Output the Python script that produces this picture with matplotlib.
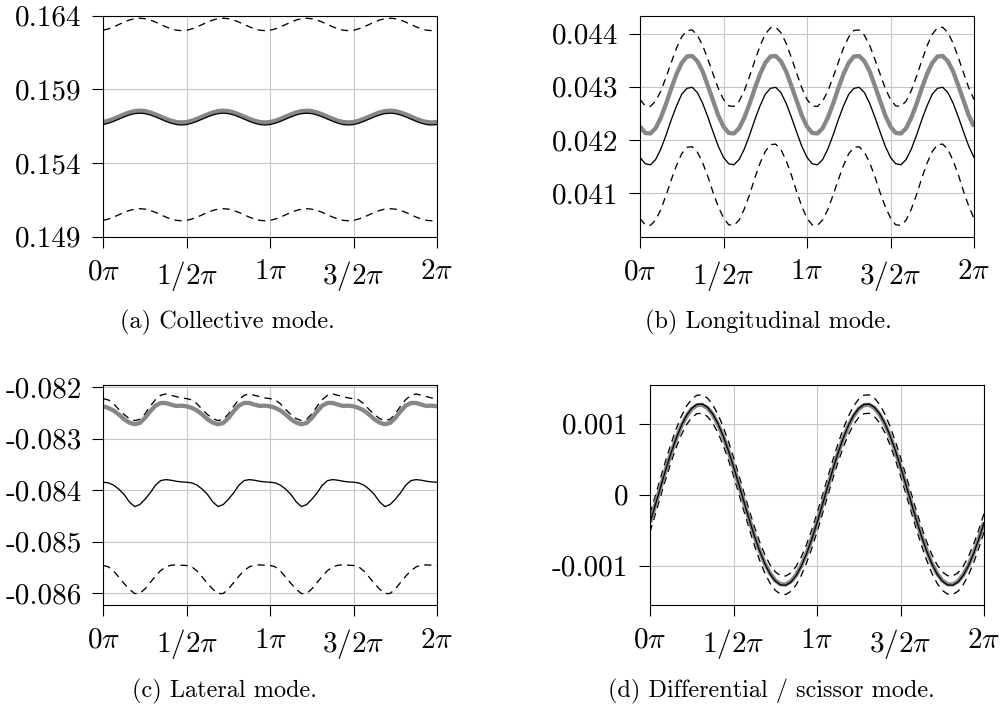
import numpy as np
import matplotlib
matplotlib.use("Agg")
import matplotlib.pyplot as plt

plt.rcParams["mathtext.fontset"] = "cm"
plt.rcParams["font.family"] = ["cmr10", "DejaVu Serif"]
plt.rcParams["axes.formatter.use_mathtext"] = True

# sample positions: 0 .. 2*pi in steps of pi/32
phase = np.linspace(0.0, 2.0 * np.pi, 65)

x_ticks = [0.0, 0.5 * np.pi, np.pi, 1.5 * np.pi, 2.0 * np.pi]
x_tick_labels = [r"$0\pi$", r"$1/2\pi$", r"$1\pi$", r"$3/2\pi$", r"$2\pi$"]

# ---------------- (a) collective mode ----------------
collective_upper = [
    0.16301, 0.16310, 0.16324, 0.16340, 0.16356, 0.16370, 0.16379, 0.16382, 0.16379, 0.16370, 0.16356, 0.16340, 0.16324, 0.16310, 0.16301, 0.16298,
    0.16301, 0.16310, 0.16324, 0.16340, 0.16356, 0.16370, 0.16379, 0.16382, 0.16379, 0.16370, 0.16356, 0.16340, 0.16324, 0.16310, 0.16301, 0.16298,
    0.16301, 0.16310, 0.16324, 0.16340, 0.16356, 0.16370, 0.16379, 0.16382, 0.16379, 0.16370, 0.16356, 0.16340, 0.16324, 0.16310, 0.16301, 0.16298,
    0.16301, 0.16310, 0.16324, 0.16340, 0.16356, 0.16370, 0.16379, 0.16382, 0.16379, 0.16370, 0.16356, 0.16340, 0.16324, 0.16310, 0.16301, 0.16298,
    0.16301,
]
collective_gray = [
    0.15678, 0.15687, 0.15700, 0.15715, 0.15730, 0.15743, 0.15752, 0.15755, 0.15752, 0.15743, 0.15730, 0.15715, 0.15700, 0.15687, 0.15678, 0.15675,
    0.15678, 0.15687, 0.15700, 0.15715, 0.15730, 0.15743, 0.15752, 0.15755, 0.15752, 0.15743, 0.15730, 0.15715, 0.15700, 0.15687, 0.15678, 0.15675,
    0.15678, 0.15687, 0.15700, 0.15715, 0.15730, 0.15743, 0.15752, 0.15755, 0.15752, 0.15743, 0.15730, 0.15715, 0.15700, 0.15687, 0.15678, 0.15675,
    0.15678, 0.15687, 0.15700, 0.15715, 0.15730, 0.15743, 0.15752, 0.15755, 0.15752, 0.15743, 0.15730, 0.15715, 0.15700, 0.15687, 0.15678, 0.15675,
    0.15678,
]
collective_black = [
    0.15661, 0.15670, 0.15683, 0.15698, 0.15713, 0.15726, 0.15735, 0.15738, 0.15735, 0.15726, 0.15713, 0.15698, 0.15683, 0.15670, 0.15661, 0.15658,
    0.15661, 0.15670, 0.15683, 0.15698, 0.15713, 0.15726, 0.15735, 0.15738, 0.15735, 0.15726, 0.15713, 0.15698, 0.15683, 0.15670, 0.15661, 0.15658,
    0.15661, 0.15670, 0.15683, 0.15698, 0.15713, 0.15726, 0.15735, 0.15738, 0.15735, 0.15726, 0.15713, 0.15698, 0.15683, 0.15670, 0.15661, 0.15658,
    0.15661, 0.15670, 0.15683, 0.15698, 0.15713, 0.15726, 0.15735, 0.15738, 0.15735, 0.15726, 0.15713, 0.15698, 0.15683, 0.15670, 0.15661, 0.15658,
    0.15661,
]
collective_lower = [
    0.15011, 0.15020, 0.15033, 0.15049, 0.15065, 0.15078, 0.15087, 0.15090, 0.15087, 0.15078, 0.15065, 0.15049, 0.15033, 0.15020, 0.15011, 0.15008,
    0.15011, 0.15020, 0.15033, 0.15049, 0.15065, 0.15078, 0.15087, 0.15090, 0.15087, 0.15078, 0.15065, 0.15049, 0.15033, 0.15020, 0.15011, 0.15008,
    0.15011, 0.15020, 0.15033, 0.15049, 0.15065, 0.15078, 0.15087, 0.15090, 0.15087, 0.15078, 0.15065, 0.15049, 0.15033, 0.15020, 0.15011, 0.15008,
    0.15011, 0.15020, 0.15033, 0.15049, 0.15065, 0.15078, 0.15087, 0.15090, 0.15087, 0.15078, 0.15065, 0.15049, 0.15033, 0.15020, 0.15011, 0.15008,
    0.15011,
]
collective_yticks = [0.149, 0.154, 0.159, 0.164]
collective_ylabels = ["0.149", "0.154", "0.159", "0.164"]

# ---------------- (b) longitudinal mode ----------------
longitudinal_upper = [
    0.04276, 0.04264, 0.04263, 0.04273, 0.04292, 0.04318, 0.04346, 0.04373, 0.04394, 0.04406, 0.04407, 0.04397, 0.04378, 0.04352, 0.04324, 0.04297,
    0.04276, 0.04264, 0.04263, 0.04273, 0.04293, 0.04320, 0.04349, 0.04377, 0.04399, 0.04411, 0.04412, 0.04402, 0.04382, 0.04355, 0.04326, 0.04298,
    0.04276, 0.04264, 0.04263, 0.04273, 0.04292, 0.04318, 0.04346, 0.04373, 0.04394, 0.04406, 0.04407, 0.04397, 0.04378, 0.04352, 0.04324, 0.04297,
    0.04276, 0.04264, 0.04263, 0.04273, 0.04293, 0.04320, 0.04349, 0.04377, 0.04399, 0.04411, 0.04412, 0.04402, 0.04382, 0.04355, 0.04326, 0.04298,
    0.04276,
]
longitudinal_gray = [
    0.04225, 0.04213, 0.04212, 0.04222, 0.04242, 0.04268, 0.04297, 0.04324, 0.04345, 0.04357, 0.04358, 0.04348, 0.04329, 0.04302, 0.04274, 0.04246,
    0.04225, 0.04213, 0.04212, 0.04222, 0.04242, 0.04268, 0.04297, 0.04324, 0.04345, 0.04357, 0.04358, 0.04348, 0.04329, 0.04302, 0.04274, 0.04246,
    0.04225, 0.04213, 0.04212, 0.04222, 0.04242, 0.04268, 0.04297, 0.04324, 0.04345, 0.04357, 0.04358, 0.04348, 0.04329, 0.04302, 0.04274, 0.04246,
    0.04225, 0.04213, 0.04212, 0.04222, 0.04242, 0.04268, 0.04297, 0.04324, 0.04345, 0.04357, 0.04358, 0.04348, 0.04329, 0.04302, 0.04274, 0.04246,
    0.04225,
]
longitudinal_black = [
    0.04167, 0.04155, 0.04153, 0.04163, 0.04183, 0.04209, 0.04238, 0.04264, 0.04286, 0.04297, 0.04299, 0.04289, 0.04269, 0.04243, 0.04215, 0.04188,
    0.04167, 0.04155, 0.04153, 0.04163, 0.04183, 0.04209, 0.04238, 0.04264, 0.04286, 0.04297, 0.04299, 0.04289, 0.04269, 0.04243, 0.04215, 0.04188,
    0.04167, 0.04155, 0.04153, 0.04163, 0.04183, 0.04209, 0.04238, 0.04264, 0.04286, 0.04297, 0.04299, 0.04289, 0.04269, 0.04243, 0.04215, 0.04188,
    0.04167, 0.04155, 0.04153, 0.04163, 0.04183, 0.04209, 0.04238, 0.04264, 0.04286, 0.04297, 0.04299, 0.04289, 0.04269, 0.04243, 0.04215, 0.04188,
    0.04167,
]
longitudinal_lower = [
    0.04052, 0.04040, 0.04039, 0.04049, 0.04069, 0.04096, 0.04125, 0.04152, 0.04174, 0.04186, 0.04187, 0.04177, 0.04157, 0.04131, 0.04101, 0.04074,
    0.04053, 0.04040, 0.04039, 0.04049, 0.04070, 0.04097, 0.04128, 0.04156, 0.04178, 0.04191, 0.04192, 0.04182, 0.04161, 0.04134, 0.04103, 0.04075,
    0.04052, 0.04040, 0.04039, 0.04049, 0.04069, 0.04096, 0.04125, 0.04152, 0.04174, 0.04186, 0.04187, 0.04177, 0.04157, 0.04131, 0.04101, 0.04074,
    0.04053, 0.04040, 0.04039, 0.04049, 0.04070, 0.04097, 0.04128, 0.04156, 0.04178, 0.04191, 0.04192, 0.04182, 0.04161, 0.04134, 0.04103, 0.04075,
    0.04052,
]
longitudinal_yticks = [0.041, 0.042, 0.043, 0.044]
longitudinal_ylabels = ["0.041", "0.042", "0.043", "0.044"]

# ---------------- (c) lateral mode ----------------
lateral_upper = [
    -0.082221, -0.082247, -0.082324, -0.082434, -0.082531, -0.082609, -0.082648, -0.082622, -0.082518, -0.082370, -0.082240, -0.082156, -0.082130, -0.082156, -0.082182, -0.082208,
    -0.082221, -0.082247, -0.082324, -0.082434, -0.082531, -0.082609, -0.082648, -0.082622, -0.082518, -0.082370, -0.082240, -0.082156, -0.082130, -0.082156, -0.082182, -0.082208,
    -0.082221, -0.082247, -0.082324, -0.082434, -0.082531, -0.082609, -0.082648, -0.082622, -0.082518, -0.082370, -0.082240, -0.082156, -0.082130, -0.082156, -0.082182, -0.082208,
    -0.082221, -0.082247, -0.082324, -0.082434, -0.082531, -0.082609, -0.082648, -0.082622, -0.082518, -0.082370, -0.082240, -0.082156, -0.082130, -0.082156, -0.082182, -0.082208,
    -0.082221,
]
lateral_gray = [
    -0.082370, -0.082402, -0.082454, -0.082531, -0.082622, -0.082687, -0.082719, -0.082693, -0.082596, -0.082467, -0.082357, -0.082305, -0.082305, -0.082337, -0.082363, -0.082357,
    -0.082370, -0.082402, -0.082454, -0.082531, -0.082622, -0.082687, -0.082719, -0.082693, -0.082596, -0.082467, -0.082357, -0.082305, -0.082305, -0.082337, -0.082363, -0.082357,
    -0.082370, -0.082402, -0.082454, -0.082531, -0.082622, -0.082687, -0.082719, -0.082693, -0.082596, -0.082467, -0.082357, -0.082305, -0.082305, -0.082337, -0.082363, -0.082357,
    -0.082370, -0.082402, -0.082454, -0.082531, -0.082622, -0.082687, -0.082719, -0.082693, -0.082596, -0.082467, -0.082357, -0.082305, -0.082305, -0.082337, -0.082363, -0.082357,
    -0.082370,
]
lateral_black = [
    -0.083845, -0.083858, -0.083903, -0.083981, -0.084085, -0.084227, -0.084318, -0.084279, -0.084175, -0.084052, -0.083903, -0.083813, -0.083794, -0.083806, -0.083826, -0.083839,
    -0.083845, -0.083858, -0.083903, -0.083981, -0.084085, -0.084227, -0.084318, -0.084279, -0.084175, -0.084052, -0.083903, -0.083813, -0.083794, -0.083806, -0.083826, -0.083839,
    -0.083845, -0.083858, -0.083903, -0.083981, -0.084085, -0.084227, -0.084318, -0.084279, -0.084175, -0.084052, -0.083903, -0.083813, -0.083794, -0.083806, -0.083826, -0.083839,
    -0.083845, -0.083858, -0.083903, -0.083981, -0.084085, -0.084227, -0.084318, -0.084279, -0.084175, -0.084052, -0.083903, -0.083813, -0.083794, -0.083806, -0.083826, -0.083839,
    -0.083845,
]
lateral_lower = [
    -0.085463, -0.085489, -0.085573, -0.085690, -0.085813, -0.085923, -0.086007, -0.086007, -0.085917, -0.085794, -0.085671, -0.085561, -0.085489, -0.085457, -0.085451, -0.085457,
    -0.085463, -0.085489, -0.085573, -0.085690, -0.085813, -0.085923, -0.086007, -0.086007, -0.085917, -0.085794, -0.085671, -0.085561, -0.085489, -0.085457, -0.085451, -0.085457,
    -0.085463, -0.085489, -0.085573, -0.085690, -0.085813, -0.085923, -0.086007, -0.086007, -0.085917, -0.085794, -0.085671, -0.085561, -0.085489, -0.085457, -0.085451, -0.085457,
    -0.085463, -0.085489, -0.085573, -0.085690, -0.085813, -0.085923, -0.086007, -0.086007, -0.085917, -0.085794, -0.085671, -0.085561, -0.085489, -0.085457, -0.085451, -0.085457,
    -0.085463,
]
lateral_yticks = [-0.086, -0.085, -0.084, -0.083, -0.082]
lateral_ylabels = ["-0.086", "-0.085", "-0.084", "-0.083", "-0.082"]

# ---------------- (d) differential / scissor mode ----------------
scissor_upper = [
    -0.000266, -0.000020, 0.000230, 0.000477, 0.000711, 0.000922, 0.001103, 0.001247, 0.001347, 0.001401, 0.001406, 0.001362, 0.001270, 0.001135, 0.000961, 0.000755,
    0.000526, 0.000280, 0.000030, -0.000217, -0.000451, -0.000662, -0.000843, -0.000987, -0.001087, -0.001141, -0.001146, -0.001102, -0.001010, -0.000875, -0.000701, -0.000495,
    -0.000266, -0.000020, 0.000230, 0.000477, 0.000711, 0.000922, 0.001103, 0.001247, 0.001347, 0.001401, 0.001406, 0.001362, 0.001270, 0.001135, 0.000961, 0.000755,
    0.000526, 0.000280, 0.000030, -0.000217, -0.000451, -0.000662, -0.000843, -0.000987, -0.001087, -0.001141, -0.001146, -0.001102, -0.001010, -0.000875, -0.000701, -0.000495,
    -0.000266,
]
scissor_gray = [
    -0.000392, -0.000149, 0.000100, 0.000345, 0.000577, 0.000786, 0.000966, 0.001108, 0.001208, 0.001261, 0.001266, 0.001222, 0.001132, 0.000997, 0.000825, 0.000621,
    0.000392, 0.000149, -0.000100, -0.000345, -0.000577, -0.000786, -0.000966, -0.001108, -0.001208, -0.001261, -0.001266, -0.001222, -0.001132, -0.000997, -0.000825, -0.000621,
    -0.000392, -0.000149, 0.000100, 0.000345, 0.000577, 0.000786, 0.000966, 0.001108, 0.001208, 0.001261, 0.001266, 0.001222, 0.001132, 0.000997, 0.000825, 0.000621,
    0.000392, 0.000149, -0.000100, -0.000345, -0.000577, -0.000786, -0.000966, -0.001108, -0.001208, -0.001261, -0.001266, -0.001222, -0.001132, -0.000997, -0.000825, -0.000621,
    -0.000392,
]
scissor_black = [
    -0.000396, -0.000150, 0.000100, 0.000347, 0.000581, 0.000792, 0.000973, 0.001117, 0.001217, 0.001271, 0.001276, 0.001232, 0.001140, 0.001005, 0.000831, 0.000625,
    0.000396, 0.000150, -0.000100, -0.000347, -0.000581, -0.000792, -0.000973, -0.001117, -0.001217, -0.001271, -0.001276, -0.001232, -0.001140, -0.001005, -0.000831, -0.000625,
    -0.000396, -0.000150, 0.000100, 0.000347, 0.000581, 0.000792, 0.000973, 0.001117, 0.001217, 0.001271, 0.001276, 0.001232, 0.001140, 0.001005, 0.000831, 0.000625,
    0.000396, 0.000150, -0.000100, -0.000347, -0.000581, -0.000792, -0.000973, -0.001117, -0.001217, -0.001271, -0.001276, -0.001232, -0.001140, -0.001005, -0.000831, -0.000625,
    -0.000396,
]
scissor_lower = [
    -0.000526, -0.000280, -0.000030, 0.000217, 0.000451, 0.000662, 0.000843, 0.000987, 0.001087, 0.001141, 0.001146, 0.001102, 0.001010, 0.000875, 0.000701, 0.000495,
    0.000266, 0.000020, -0.000230, -0.000477, -0.000711, -0.000922, -0.001103, -0.001247, -0.001347, -0.001401, -0.001406, -0.001362, -0.001270, -0.001135, -0.000961, -0.000755,
    -0.000526, -0.000280, -0.000030, 0.000217, 0.000451, 0.000662, 0.000843, 0.000987, 0.001087, 0.001141, 0.001146, 0.001102, 0.001010, 0.000875, 0.000701, 0.000495,
    0.000266, 0.000020, -0.000230, -0.000477, -0.000711, -0.000922, -0.001103, -0.001247, -0.001347, -0.001401, -0.001406, -0.001362, -0.001270, -0.001135, -0.000961, -0.000755,
    -0.000526,
]
scissor_yticks = [-0.001, 0.0, 0.001]
scissor_ylabels = ["-0.001", "0", "0.001"]

captions = [
    "(a) Collective mode.",
    "(b) Longitudinal mode.",
    "(c) Lateral mode.",
    "(d) Differential / scissor mode.",
]

W, H = 1001, 713
fig = plt.figure(figsize=(W / 100, H / 100), dpi=100)


def px_axes(left, top, right, bottom):
    return fig.add_axes([left / W, 1 - bottom / H, (right - left) / W, (bottom - top) / H])


def draw_panel(ax, upper, gray, black, lower, yticks, ylabels, ylim):
    ax.plot(phase, upper, color="black", lw=0.95, dashes=(5.5, 4.0))
    ax.plot(phase, lower, color="black", lw=0.95, dashes=(5.5, 4.0))
    ax.plot(phase, gray, color="#878787", lw=3.1, solid_capstyle="butt")
    ax.plot(phase, black, color="black", lw=0.95)
    ax.set_xlim(0.0, 2.0 * np.pi)
    ax.set_ylim(*ylim)
    ax.set_xticks(x_ticks)
    ax.set_xticklabels(x_tick_labels)
    ax.set_yticks(yticks)
    ax.set_yticklabels(ylabels)
    ax.grid(True, color="#c6c6c6", lw=0.8)
    ax.set_axisbelow(True)
    ax.tick_params(axis="both", direction="out", length=8, width=0.8,
                   labelsize=21, color="black")
    ax.tick_params(axis="x", pad=8)
    ax.tick_params(axis="y", pad=7.5)
    for sp in ax.spines.values():
        sp.set_linewidth(0.8)
        sp.set_color("black")


ax_a = px_axes(103.3, 15.6, 437.0, 236.7)
draw_panel(ax_a, collective_upper, collective_gray, collective_black, collective_lower,
           collective_yticks, collective_ylabels, (0.149, 0.164))

ax_b = px_axes(640.0, 15.6, 974.0, 236.5)
draw_panel(ax_b, longitudinal_upper, longitudinal_gray, longitudinal_black, longitudinal_lower,
           longitudinal_yticks, longitudinal_ylabels, (0.04018, 0.04434))

ax_c = px_axes(103.3, 384.7, 437.0, 605.0)
draw_panel(ax_c, lateral_upper, lateral_gray, lateral_black, lateral_lower,
           lateral_yticks, lateral_ylabels, (-0.08623, -0.08195))

ax_d = px_axes(650.0, 384.7, 984.0, 605.0)
draw_panel(ax_d, scissor_upper, scissor_gray, scissor_black, scissor_lower,
           scissor_yticks, scissor_ylabels, (-0.001554, 0.001549))

caption_pos = [(227, 322), (768, 322), (224, 691), (771, 691)]
for (cx, cy), text in zip(caption_pos, captions):
    fig.text(cx / W, 1 - cy / H, text, ha="center", va="center", fontsize=17.5)

fig.savefig("out.png", dpi=100)
